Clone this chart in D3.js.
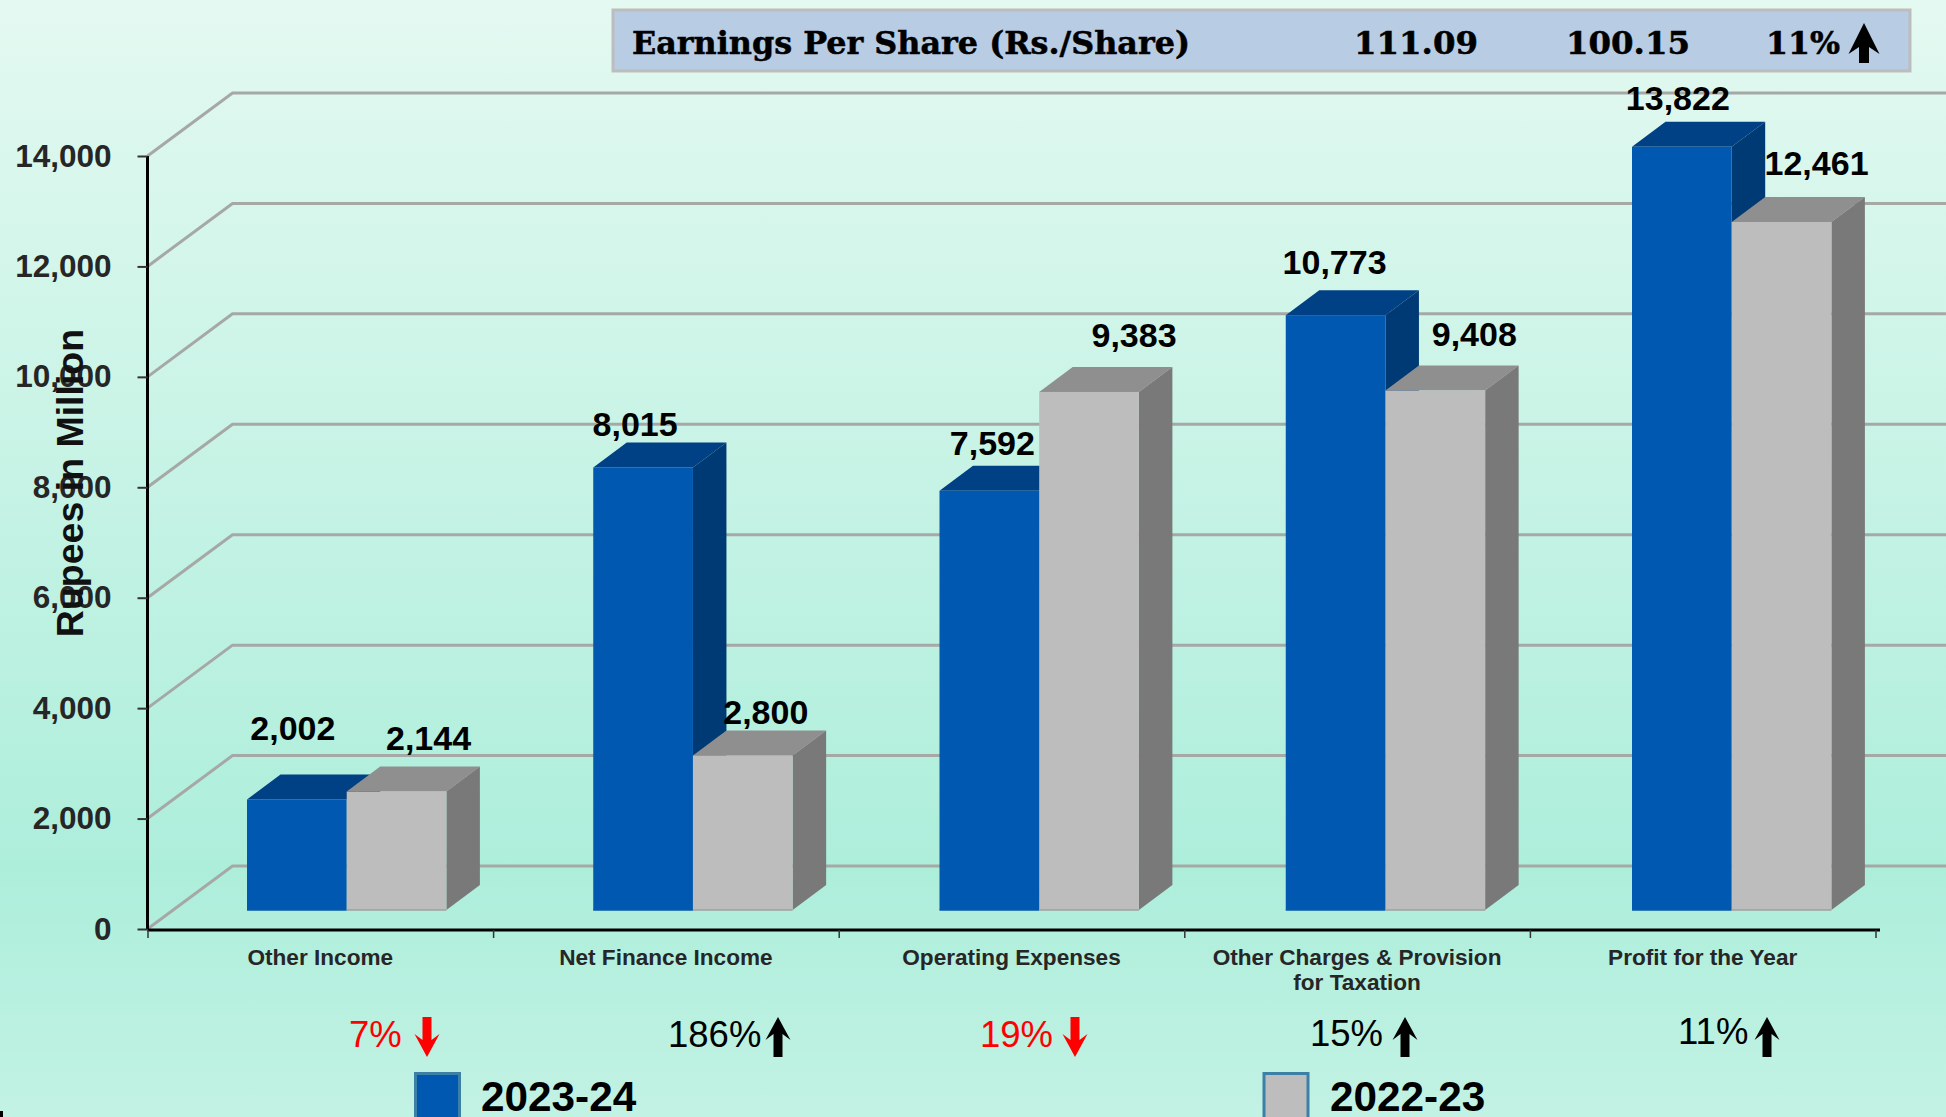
<!DOCTYPE html>
<html><head><meta charset="utf-8">
<script src="https://cdnjs.cloudflare.com/ajax/libs/d3/7.8.5/d3.min.js"></script>
<style>html,body{margin:0;padding:0;overflow:hidden;background:#c0f2e2}svg{display:block}text{font-family:"Liberation Sans",Arial,sans-serif}</style>
</head><body><svg id="c" width="1946" height="1117"></svg>
<script>
const categories=[["Other Income"],["Net Finance Income"],["Operating Expenses"],["Other Charges & Provision","for Taxation"],["Profit for the Year"]];
const series2324=[2002,8015,7592,10773,13822];
const series2223=[2144,2800,9383,9408,12461];
const seriesNames=["2023-24","2022-23"];
const changeLabels=["7%","186%","19%","15%","11%"];
const changeDirections=["down","up","down","up","up"];
const yTicks=[0,2000,4000,6000,8000,10000,12000,14000];
const epsLabel="Earnings Per Share (Rs./Share)";
const epsValues=["111.09","100.15","11%"];

// layout only
const W=1946,H=1117;
const labelShift2324=[[-4,-71],[-8,-43],[3,-48],[-1,-53],[-4,-49]];
const labelShift2223=[[32,-54],[23,-43],[45,-57],[39,-57],[35,-59]];
const changeX=[349,668,980,1310,1678], changeBase=[1047,1047,1047,1046,1044], arrowX=[427,778,1075,1405,1767];

const svg=d3.select("#c");
const defs=svg.append("defs");
const g=defs.append("linearGradient").attr("id","bg").attr("x1",0).attr("y1",0).attr("x2",0).attr("y2",1);
[[0,"#e4f9f1"],[.78,"#adeedb"],[1,"#c2f2e4"]].forEach(([o,c])=>g.append("stop").attr("offset",o).attr("stop-color",c));
svg.append("rect").attr("width",W).attr("height",H).attr("fill","url(#bg)");

const y=d3.scaleLinear().domain([0,14000]).range([929,156]);
const xEdge=d3.scaleLinear().domain([0,5]).range([147.5,1875.5]);
const barX=d3.scaleLinear().domain([0,4]).range([247,1632]);
const depthX=85,depthY=-63;
const barBase=19, barW=99.7, bDX=33.5, bDY=-25;

// walls
svg.append("g").selectAll("path").data(yTicks).join("path")
 .attr("d",d=>`M${xEdge(0)},${y(d)}L${xEdge(0)+depthX},${y(d)+depthY}H${W}`)
 .attr("fill","none").attr("stroke","#a6a8a6").attr("stroke-width",3);

// bars
function bar(sel,x,v,front,top,side,edge){
  const t=y(v)-barBase,b=y(0)-barBase;
  sel.append("path").attr("d",`M${x},${t}l${bDX},${bDY}h${barW}l${-bDX},${-bDY}z`).attr("fill",top);
  sel.append("path").attr("d",`M${x+barW},${t}l${bDX},${bDY}V${b+bDY}l${-bDX},${-bDY}z`).attr("fill",side);
  sel.append("rect").attr("x",x).attr("y",t).attr("width",barW).attr("height",b-t).attr("fill",front);
  sel.append("path").attr("d",`M${x},${b}h${barW}`).attr("stroke",edge).attr("stroke-width",1.5);
}
categories.forEach((c,i)=>{
  const x0=barX(i), gg=svg.append("g");
  bar(gg,x0,series2324[i],"#0058b0","#004085","#003a74","#0a58a8");
  bar(gg,x0+barW,series2223[i],"#bdbdbd","#8f8f8f","#797979","#a0a0a0");
});

// axes
const yAxis=d3.axisLeft(y).tickValues(yTicks).tickSize(10).tickPadding(26).tickFormat(d3.format(","));
const ay=svg.append("g").attr("transform",`translate(${xEdge(0)},0)`).call(yAxis);
ay.select(".domain").attr("stroke","#000").attr("stroke-width",3).attr("d",`M0,${y(14000)}V${y(0)}`);
ay.selectAll(".tick line").attr("stroke","#333").attr("stroke-width",2);
ay.selectAll("text").attr("font-size",31.5).attr("font-weight","bold").attr("fill","#262626").style("font-family","'Liberation Sans'");
const xAxis=d3.axisBottom(xEdge).tickValues(d3.range(6)).tickSize(8).tickFormat("");
const ax=svg.append("g").attr("transform",`translate(0,${y(0)+1})`).call(xAxis);
ax.select(".domain").attr("stroke","#000").attr("stroke-width",3).attr("d",`M${xEdge(0)},0H1880`);
ax.selectAll(".tick line").attr("stroke","#333").attr("stroke-width",1.5);

// category labels
categories.forEach((c,i)=>{
  const t=svg.append("text").attr("text-anchor","middle").attr("font-size",22.6).attr("font-weight","bold").attr("fill","#262626");
  c.forEach((l,j)=>t.append("tspan").attr("x",(xEdge(i)+xEdge(i+1))/2).attr("y",965+j*25).text(l));
});

// value labels
function valueLabels(vals,shift,offX){
  vals.forEach((v,i)=>{
    svg.append("text").attr("x",barX(i)+offX+barW/2+shift[i][0]).attr("y",y(v)-barBase+shift[i][1]+12)
     .attr("text-anchor","middle").attr("font-size",34).attr("font-weight","bold").attr("fill","#000").text(d3.format(",")(v));
  });
}
valueLabels(series2324,labelShift2324,0);
valueLabels(series2223,labelShift2223,barW);

// title
svg.append("text").attr("transform","translate(83,483) rotate(-90)").attr("text-anchor","middle").attr("font-size",37.5).attr("font-weight","bold").attr("fill","#111").text("Rupees in Million");

// arrows
function arrow(cx,top,h,w,sw,hh,notch,color,dir){
  const s=dir==="up"?1:-1, tip=dir==="up"?top:top+h, end=dir==="up"?top+h:top;
  const barb=tip+s*hh, n=barb-s*notch;
  svg.append("path").attr("d",`M${cx},${tip}L${cx+w/2},${barb}L${cx+sw/2},${n}V${end}H${cx-sw/2}V${n}L${cx-w/2},${barb}Z`).attr("fill",color);
}
changeLabels.forEach((l,i)=>{
  const col=changeDirections[i]==="down"?"#ff0000":"#000";
  svg.append("text").attr("x",changeX[i]).attr("y",changeBase[i]).attr("font-size",36.5).attr("fill",col).text(l);
  arrow(arrowX[i],1017,40,25,9,23,6,col,changeDirections[i]);
});

// legend
[[414,"#0058b0",481],[1262.5,"#bdbdbd",1330]].forEach((d,i)=>{
  svg.append("rect").attr("x",d[0]+1.5).attr("y",1073.5).attr("width",44).attr("height",60).attr("fill",d[1]).attr("stroke","#3d80a6").attr("stroke-width",3);
  svg.append("text").attr("x",d[2]).attr("y",1111).attr("font-size",42.3).attr("font-weight","bold").attr("fill","#000").text(seriesNames[i]);
});
svg.append("rect").attr("x",0).attr("y",1111).attr("width",3).attr("height",6).attr("fill","#000");

// EPS strip
function epsText(t,x,len){
  svg.append("text").attr("x",x).attr("y",54).attr("font-size",31).attr("font-weight","bold").attr("fill","#000")
   .attr("stroke","#000").attr("stroke-width",.5)
   .attr("textLength",len).attr("lengthAdjust","spacingAndGlyphs").style("font-family","'DejaVu Serif'").text(t);
}
svg.append("rect").attr("x",613).attr("y",10).attr("width",1297).attr("height",61).attr("fill","#b8cce4").attr("stroke","#bdbdbd").attr("stroke-width",3);
epsText(epsLabel,632,558);
[[1354,124],[1566,124],[1766,74]].forEach((p,i)=>epsText(epsValues[i],p[0],p[1]));
arrow(1864,23,40,31,10,31,7,"#000","up");
</script></body></html>
